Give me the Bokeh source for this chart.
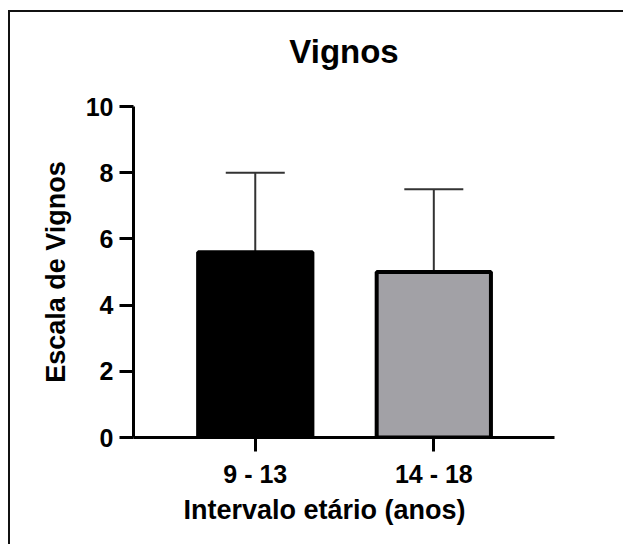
from bokeh.plotting import figure
from bokeh.models import Range1d, FixedTicker, Whisker, ColumnDataSource, TeeHead, Title
from bokeh.embed import file_html
from bokeh.resources import INLINE

# Vignos scale by age group: mean and standard deviation
groups = ["9 - 13", "14 - 18"]
means = [5.6, 5.0]
sds = [2.4, 2.5]
bar_colors = ["#000000", "#a2a1a6"]
y_ticks = [0, 2, 4, 6, 8, 10]

xs = list(range(1, len(groups) + 1))
tops = [m + s for m, s in zip(means, sds)]
src = ColumnDataSource(dict(x=xs, mean=means, top=tops, color=bar_colors))

FONT = "Liberation Sans"

p = figure(
    width=615, height=534,
    x_range=Range1d(0.318, 2.676), y_range=Range1d(0, 10),
    output_backend="svg", toolbar_location=None,
    min_border_left=123, min_border_right=71,
    min_border_top=94, min_border_bottom=109,
    title="Vignos",
)
p.margin = (10, 0, 0, 8)
p.styles = {"border-left": "2px solid #111", "border-top": "2px solid #111"}
p.background_fill_color = "white"
p.border_fill_color = "white"
p.outline_line_color = None
p.grid.grid_line_color = None

p.title.text_font = FONT
p.title.text_font_style = "bold"
p.title.text_font_size = "33px"
p.title.text_color = "black"
p.title.align = "center"
p.title.vertical_align = "top"
p.title.standoff = 0

# blank strip that lifts the chart title away from the plotting area
p.add_layout(Title(text=" ", text_font_size="1px", standoff=32), "above")

# bars
p.vbar(x="x", width=0.64, top="mean", bottom=0, fill_color="color",
       line_color="black", line_width=4, source=src)

# upper error bars (mean + SD)
p.add_layout(Whisker(base="x", upper="top", lower="mean", source=src,
                     line_color="#333333", line_width=2,
                     upper_head=TeeHead(size=59, line_color="#333333", line_width=2),
                     lower_head=None))

for ax in (p.xaxis[0], p.yaxis[0]):
    ax.axis_line_width = 3
    ax.axis_line_color = "black"
    ax.major_tick_line_width = 3
    ax.major_tick_line_color = "black"
    ax.major_tick_out = 14
    ax.major_tick_in = 0
    ax.minor_tick_line_color = None
    ax.major_label_text_font = FONT
    ax.major_label_text_font_style = "bold"
    ax.major_label_text_font_size = "25px"
    ax.major_label_text_color = "black"
    ax.axis_label_text_font = FONT
    ax.axis_label_text_font_style = "bold"
    ax.axis_label_text_font_size = "27px"
    ax.axis_label_text_color = "black"

p.xaxis.ticker = FixedTicker(ticks=xs)
p.xaxis.major_label_overrides = {x: g for x, g in zip(xs, groups)}
p.xaxis.major_label_standoff = 8

# x-axis title, set slightly left of the frame centre
p.add_layout(Title(text="Intervalo etário (anos)", align="left", offset=50,
                   text_font=FONT, text_font_style="bold", text_font_size="27px",
                   text_color="black", standoff=4), "below")

p.yaxis.ticker = FixedTicker(ticks=y_ticks)
p.yaxis.axis_label = "Escala de Vignos"
p.yaxis.major_label_standoff = 6
p.yaxis.axis_label_standoff = 12

open("out.html", "w").write(file_html(p, INLINE))
